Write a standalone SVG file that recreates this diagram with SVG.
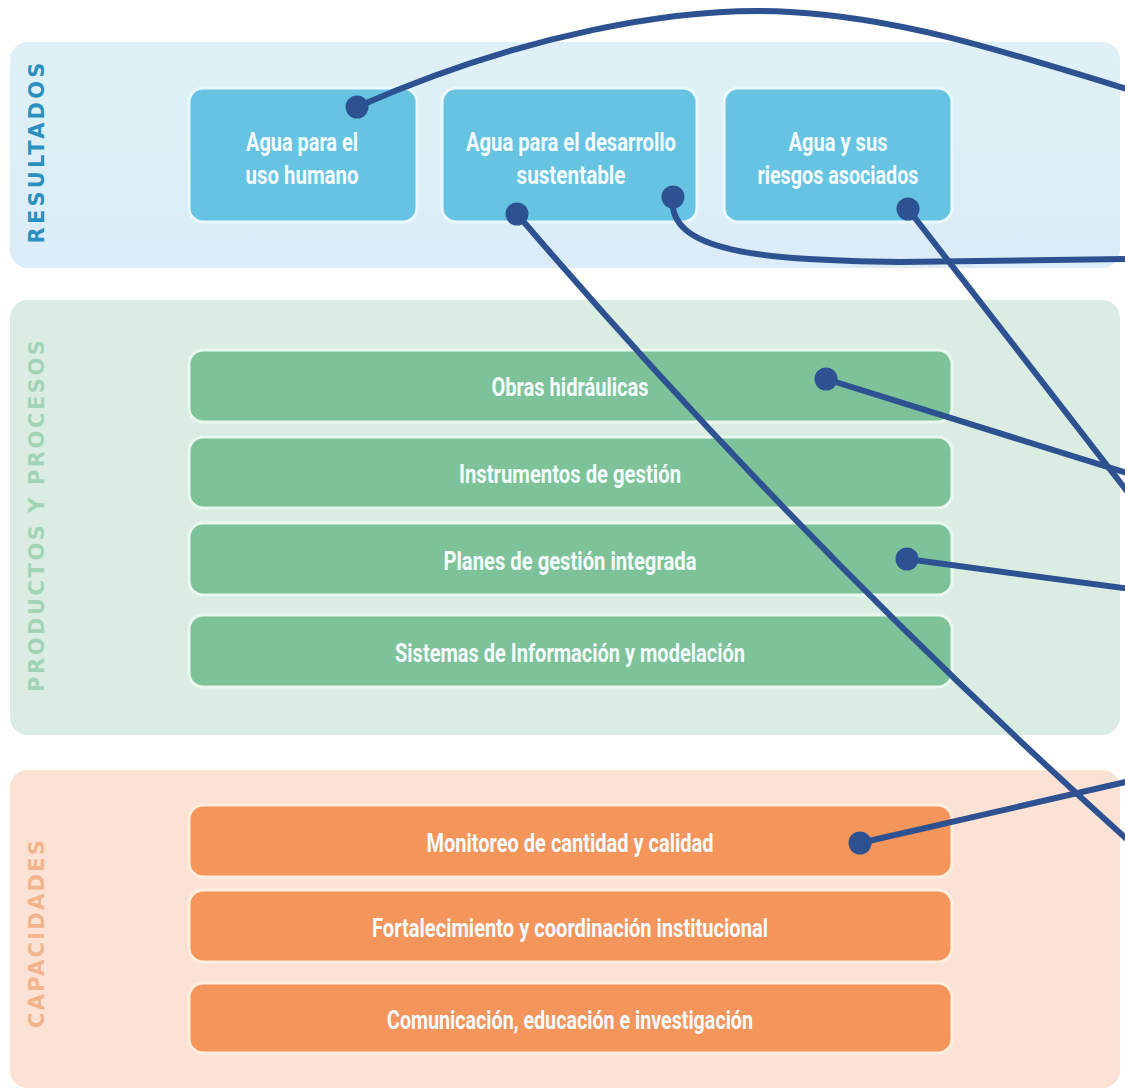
<svg xmlns="http://www.w3.org/2000/svg" width="1125" height="1090" viewBox="0 0 1125 1090">
  <style>
    .lbl { font-family: "Roboto", "Liberation Sans", sans-serif; font-weight: bold; font-size: 26px; fill: #f3fbfe; text-anchor: middle; }
    .side { font-family: "DejaVu Sans", "Liberation Sans", sans-serif; font-weight: bold; font-size: 21px; text-anchor: middle; }
    .blue { fill: #66c4e2; stroke: #eaf7fc; stroke-width: 3; }
    .green { fill: #7dc298; stroke: #e9f7ee; stroke-width: 3; }
    .orange { fill: #f4955b; stroke: #fdeedd; stroke-width: 3; }
    .conn { fill: none; stroke: #2e5291; stroke-width: 6; stroke-linecap: round; }
    .dot { fill: #2e5291; }
  </style>
  <defs>
    <linearGradient id="gBlue" x1="0" y1="0" x2="0" y2="1">
      <stop offset="0" stop-color="#e0f0f8"/>
      <stop offset="0.3" stop-color="#dcf0f5"/>
      <stop offset="1" stop-color="#dbecf8"/>
    </linearGradient>
  </defs>
  <rect x="0" y="0" width="1125" height="1090" fill="#fefefc"/>

  <g id="panel-resultados">
    <rect x="10" y="42" width="1110" height="226" rx="18" fill="url(#gBlue)"/>
    <text class="side" fill="#2b8fbf" transform="translate(44,153) rotate(-90)" textLength="181" lengthAdjust="spacing">RESULTADOS</text>
  </g>
  <g id="panel-productos">
    <rect x="10" y="300" width="1110" height="435" rx="18" fill="#dbede2"/>
    <text class="side" fill="#a1d4b6" transform="translate(44,516) rotate(-90)" textLength="352" lengthAdjust="spacing">PRODUCTOS Y PROCESOS</text>
  </g>
  <g id="panel-capacidades">
    <rect x="10" y="770" width="1110" height="318" rx="18" fill="#fbe2d4"/>
    <text class="side" fill="#f3b38b" transform="translate(44,934) rotate(-90)" textLength="188" lengthAdjust="spacing">CAPACIDADES</text>
  </g>

  <g id="n-uso-humano">
    <rect class="blue" x="189" y="88" width="228" height="134" rx="14"/>
    <text class="lbl" x="302" y="151" textLength="112" lengthAdjust="spacingAndGlyphs">Agua para el</text>
    <text class="lbl" x="302" y="184" textLength="113" lengthAdjust="spacingAndGlyphs">uso humano</text>
  </g>
  <g id="n-desarrollo">
    <rect class="blue" x="442" y="88" width="255" height="134" rx="14"/>
    <text class="lbl" x="571" y="151" textLength="210" lengthAdjust="spacingAndGlyphs">Agua para el desarrollo</text>
    <text class="lbl" x="571" y="184" textLength="109" lengthAdjust="spacingAndGlyphs">sustentable</text>
  </g>
  <g id="n-riesgos">
    <rect class="blue" x="724" y="88" width="228" height="134" rx="14"/>
    <text class="lbl" x="838" y="151" textLength="99" lengthAdjust="spacingAndGlyphs">Agua y sus</text>
    <text class="lbl" x="838" y="184" textLength="161" lengthAdjust="spacingAndGlyphs">riesgos asociados</text>
  </g>

  <g id="n-obras">
    <rect class="green" x="189" y="350" width="763" height="72" rx="14"/>
    <text class="lbl" x="570" y="396" textLength="157" lengthAdjust="spacingAndGlyphs">Obras hidráulicas</text>
  </g>
  <g id="n-instrumentos">
    <rect class="green" x="189" y="437" width="763" height="71" rx="14"/>
    <text class="lbl" x="570" y="483" textLength="222" lengthAdjust="spacingAndGlyphs">Instrumentos de gestión</text>
  </g>
  <g id="n-planes">
    <rect class="green" x="189" y="523" width="763" height="72" rx="14"/>
    <text class="lbl" x="570" y="570" textLength="253" lengthAdjust="spacingAndGlyphs">Planes de gestión integrada</text>
  </g>
  <g id="n-sistemas">
    <rect class="green" x="189" y="615" width="763" height="72" rx="14"/>
    <text class="lbl" x="570" y="662" textLength="350" lengthAdjust="spacingAndGlyphs">Sistemas de Información y modelación</text>
  </g>

  <g id="n-monitoreo">
    <rect class="orange" x="189" y="805" width="763" height="72" rx="14"/>
    <text class="lbl" x="570" y="852" textLength="287" lengthAdjust="spacingAndGlyphs">Monitoreo de cantidad y calidad</text>
  </g>
  <g id="n-fortalecimiento">
    <rect class="orange" x="189" y="890" width="763" height="72" rx="14"/>
    <text class="lbl" x="570" y="937" textLength="396" lengthAdjust="spacingAndGlyphs">Fortalecimiento y coordinación institucional</text>
  </g>
  <g id="n-comunicacion">
    <rect class="orange" x="189" y="983" width="763" height="70" rx="14"/>
    <text class="lbl" x="570" y="1029" textLength="366" lengthAdjust="spacingAndGlyphs">Comunicación, educación e investigación</text>
  </g>

  <g id="connectors">
    <path class="conn" d="M357,107 C520,35 680,5 790,12 C900,18 1000,50 1130,90"/>
    <path class="conn" d="M673,197 C666,252 760,260 900,262 L1130,259"/>
    <path class="conn" d="M517,214 Q801,546 1130,842"/>
    <path class="conn" d="M908,209 L1130,495"/>
    <path class="conn" d="M826,379 L1130,474"/>
    <path class="conn" d="M907,559 L1130,589"/>
    <path class="conn" d="M860,843 L1130,781"/>
    <circle class="dot" cx="357" cy="107" r="11.5"/>
    <circle class="dot" cx="673" cy="197" r="11.5"/>
    <circle class="dot" cx="517" cy="214" r="11.5"/>
    <circle class="dot" cx="908" cy="209" r="11.5"/>
    <circle class="dot" cx="826" cy="379" r="11.5"/>
    <circle class="dot" cx="907" cy="559" r="11.5"/>
    <circle class="dot" cx="860" cy="843" r="11.5"/>
  </g>
</svg>
